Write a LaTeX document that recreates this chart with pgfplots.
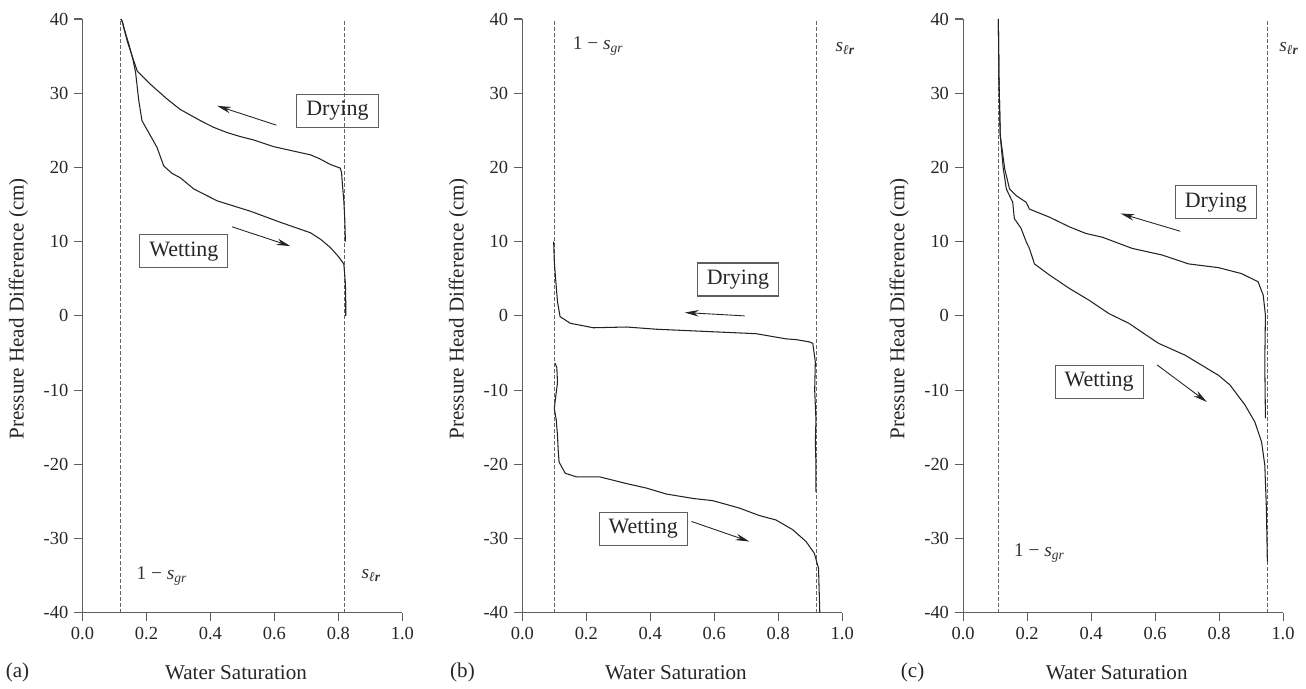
\documentclass[border=0pt]{standalone}
\usepackage{fontspec}
\setmainfont{Liberation Serif}
\usepackage{pgfplots}
\pgfplotsset{compat=1.18}
\usetikzlibrary{arrows.meta}
\definecolor{axisgray}{RGB}{95,95,95}
\definecolor{curvecol}{RGB}{35,35,35}
\definecolor{guidecol}{RGB}{100,100,100}

\pgfplotsset{
  panel/.style={
    scale only axis, width=64mm, height=118.8mm,
    xmin=0, xmax=1, ymin=-40, ymax=40,
    axis x line=bottom, axis y line=left,
    axis line style={-, axisgray, line width=0.6pt},
    tick style={axisgray, line width=0.6pt},
    tick align=outside, major tick length=1.6mm,
    xtick={0,0.2,0.4,0.6,0.8,1.0}, ytick={-40,-30,-20,-10,0,10,20,30,40},
    xticklabel style={/pgf/number format/fixed, /pgf/number format/fixed zerofill, /pgf/number format/precision=1},
    /pgf/number format/assume math mode=true,
    tick label style={font=\fontsize{10.5}{12}\selectfont, text=black!85},
    xlabel={Water Saturation},
    ylabel={Pressure Head Difference (cm)},
    label style={font=\fontsize{12}{14}\selectfont, text=black!85},
    xlabel style={at={(axis description cs:0.48,-0.101)}, anchor=center},
    ylabel style={at={(axis description cs:-0.2,0.512)}, anchor=center},
    clip=false,
  },
  curve/.style={no marks, curvecol, line width=0.6pt},
  guide/.style={no marks, guidecol, dash pattern=on 0.7mm off 0.5mm, line width=0.55pt},
}
\tikzset{
  box/.style={draw=axisgray, line width=0.6pt, font=\fontsize{12.5}{14}\selectfont,
    inner xsep=1.9mm, inner ysep=0pt, minimum height=6.6mm, text=black!85},
  note/.style={anchor=west, font=\fontsize{11}{13}\selectfont, text=black!80},
  dir/.style={-{Stealth[length=2.8mm,width=1.3mm]}, curvecol, line width=0.5pt},
  tag/.style={font=\fontsize{12}{14}\selectfont, text=black!85},
}

\begin{document}
\begin{tikzpicture}
% ---------------- (a)
\begin{axis}[panel, at={(0,0)}, anchor=south west]
\addplot[guide] coordinates {(0.12,-40)(0.12,40)};
\addplot[guide] coordinates {(0.82,-40)(0.82,40)};
% drying
\addplot[curve] coordinates {
(0.822,10)(0.82,13)(0.817,15.5)(0.812,18)(0.81,19.3)(0.806,19.9)(0.775,20.4)
(0.74,21.2)(0.7125,21.7)(0.66,22.2)(0.598,22.8)(0.535,23.7)(0.49,24.2)
(0.452,24.7)(0.41,25.4)(0.369,26.3)(0.306,27.8)(0.265,29.2)(0.2125,31.2)
(0.171,33.0)(0.14,37.0)(0.124,39.7)(0.12,40)};
% wetting
\addplot[curve] coordinates {
(0.12,40)(0.124,39.7)(0.135,38)(0.145,36.6)(0.158,34.5)(0.166,32.8)(0.176,29.0)
(0.186,26.3)(0.207,24.7)(0.233,22.7)(0.254,20.2)(0.28,19.2)(0.306,18.6)
(0.348,17.1)(0.421,15.5)(0.525,14.1)(0.619,12.6)(0.7125,11.2)(0.745,10.3)
(0.775,9.2)(0.80,8.0)(0.817,7.0)(0.822,4.3)(0.823,2)(0.823,0)};
\node[box] at (axis cs:0.797,27.6) {Drying};
\node[box] at (axis cs:0.317,8.7) {Wetting};
\draw[dir] (axis cs:0.606,25.7) -- (axis cs:0.421,28.3);
\draw[dir] (axis cs:0.468,12.0) -- (axis cs:0.65,9.4);
\node[note] at (axis cs:0.15,-35) {1 − \textit{s}\textsubscript{\textit{gr}}};
\node[note] at (axis cs:0.853,-35) {\textit{s}\textsubscript{\textbf{\textit{ℓr}}}};
\node[tag] at (axis description cs:-0.203,-0.101) {(a)};
\end{axis}
% ---------------- (b)
\begin{axis}[panel, at={(88mm,0)}, anchor=south west]
\addplot[guide] coordinates {(0.10,-40)(0.10,40)};
\addplot[guide] coordinates {(0.92,-40)(0.92,40)};
% drying
\addplot[curve] coordinates {
(0.098,10)(0.1,7.3)(0.105,4.5)(0.11,1.9)(0.118,-0.1)(0.15,-1.0)(0.222,-1.6)
(0.326,-1.5)(0.42,-1.8)(0.575,-2.1)(0.731,-2.4)(0.825,-3.1)(0.856,-3.2)
(0.897,-3.5)(0.908,-3.7)(0.916,-6.2)(0.914,-10)(0.918,-14)(0.916,-17)
(0.918,-20)(0.918,-23.7)};
% wetting
\addplot[curve] coordinates {
(0.103,-6.4)(0.108,-7)(0.11,-9.0)(0.104,-11)(0.1,-12.5)(0.106,-14)(0.11,-16.1)
(0.112,-18)(0.115,-19.7)(0.134,-21.2)(0.17,-21.7)(0.243,-21.7)(0.326,-22.6)
(0.388,-23.2)(0.45,-24.0)(0.534,-24.6)(0.596,-24.9)(0.679,-25.9)(0.741,-26.9)
(0.793,-27.5)(0.845,-28.8)(0.887,-30.4)(0.913,-32.0)(0.926,-34.0)(0.928,-37)
(0.93,-40)};
\node[box] at (axis cs:0.674,4.9) {Drying};
\node[box] at (axis cs:0.378,-28.7) {Wetting};
\draw[dir] (axis cs:0.695,0) -- (axis cs:0.508,0.45);
\draw[dir] (axis cs:0.529,-27.7) -- (axis cs:0.71,-30.4);
\node[note] at (axis cs:0.139,36.4) {1 − \textit{s}\textsubscript{\textit{gr}}};
\node[note] at (axis cs:0.96,36) {\textit{s}\textsubscript{\textbf{\textit{ℓr}}}};
\node[tag] at (axis description cs:-0.187,-0.101) {(b)};
\end{axis}
% ---------------- (c)
\begin{axis}[panel, at={(176.2mm,0)}, anchor=south west]
\addplot[guide] coordinates {(0.11,-40)(0.11,40)};
\addplot[guide] coordinates {(0.95,-40)(0.95,40)};
% drying
\addplot[curve] coordinates {
(0.11,40)(0.112,32)(0.116,24.3)(0.13,19.8)(0.145,17.1)(0.166,16.2)(0.197,15.3)
(0.207,14.4)(0.218,14.2)(0.27,13.3)(0.332,12.0)(0.384,11.1)(0.435,10.6)
(0.528,9.1)(0.622,8.2)(0.705,7.0)(0.798,6.5)(0.87,5.7)(0.922,4.6)(0.938,2.8)
(0.945,0.1)(0.943,-6.2)(0.945,-13.8)};
% wetting
\addplot[curve] coordinates {
(0.11,40)(0.112,32)(0.116,24.3)(0.125,20)(0.135,17.1)(0.155,15.3)(0.16,13.1)
(0.181,11.8)(0.197,10.0)(0.207,9.1)(0.223,7.0)(0.27,5.5)(0.332,3.7)(0.394,2.1)
(0.456,0.3)(0.518,-1.0)(0.59,-3.1)(0.611,-3.7)(0.694,-5.3)(0.798,-8.0)
(0.834,-9.3)(0.881,-12.0)(0.912,-14.3)(0.933,-17.0)(0.943,-20.1)(0.948,-25.9)
(0.951,-33.1)};
\node[box] at (axis cs:0.79,15.3) {Drying};
\node[box] at (axis cs:0.425,-8.9) {Wetting};
\draw[dir] (axis cs:0.679,11.4) -- (axis cs:0.492,13.8);
\draw[dir] (axis cs:0.606,-6.6) -- (axis cs:0.762,-11.6);
\node[note] at (axis cs:0.14,-32) {1 − \textit{s}\textsubscript{\textit{gr}}};
\node[note] at (axis cs:0.969,36) {\textit{s}\textsubscript{\textbf{\textit{ℓr}}}};
\node[tag] at (axis description cs:-0.158,-0.101) {(c)};
\end{axis}
\path (-16.4mm,-14.6mm) rectangle (244.8mm,122.6mm);
\end{tikzpicture}
\end{document}
